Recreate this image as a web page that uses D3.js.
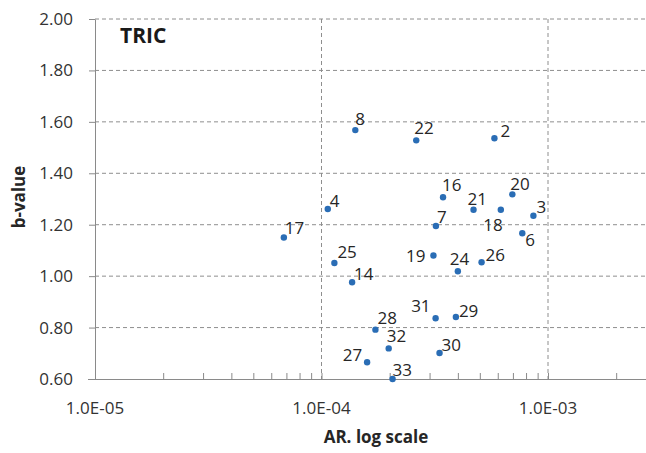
<!DOCTYPE html>
<html>
<head>
<meta charset="utf-8">
<script src="https://cdn.jsdelivr.net/npm/d3@7"></script>
<style>
  html, body { margin: 0; padding: 0; background: #fff; }
  svg { display: block; font-family: "Open Sans", "Noto Sans", sans-serif; }
</style>
</head>
<body>
<svg id="chart" width="646" height="453"></svg>
<script>
// Sample ids, AR (log axis) and b-value
const pointIds = [2, 3, 4, 6, 7, 8, 14, 16, 17, 18, 19, 20, 21, 22, 24, 25, 26, 27, 28, 29, 30, 31, 32, 33];
const arValues = [5.80e-4, 8.62e-4, 1.066e-4, 7.70e-4, 3.20e-4, 1.41e-4, 1.365e-4, 3.44e-4, 6.82e-5, 6.19e-4,
                  3.12e-4, 6.96e-4, 4.69e-4, 2.62e-4, 4.00e-4, 1.14e-4, 5.09e-4, 1.59e-4, 1.73e-4, 3.92e-4,
                  3.32e-4, 3.19e-4, 1.98e-4, 2.06e-4];
const bValues = [1.536, 1.235, 1.261, 1.167, 1.195, 1.568, 0.976, 1.307, 1.150, 1.258,
                 1.080, 1.318, 1.258, 1.528, 1.019, 1.051, 1.054, 0.665, 0.792, 0.841,
                 0.701, 0.836, 0.719, 0.600];

const yTicks = [0.6, 0.8, 1.0, 1.2, 1.4, 1.6, 1.8, 2.0];
const xDecades = [1e-5, 1e-4, 1e-3];
const xTickLabels = ['1.0E-05', '1.0E-04', '1.0E-03'];

// Label placement next to each dot: [dx, dy, anchor]
const labelOffset = {
    2: [6, -1], 3: [3, -3], 4: [2, -2], 6: [3, 13], 7: [1, -3], 8: [0, -5],
    14: [2, -2], 16: [-1, -6], 17: [1, -4], 18: [2, 21, 'end'], 19: [-8, 6, 'end'],
    20: [-2, -4], 21: [-6, -5], 22: [-2, -6], 24: [-8, -6], 25: [3, -5], 26: [4, -1],
    27: [-5, -1, 'end'], 28: [2, -6], 29: [3, 0], 30: [2, -2], 31: [-5, -6, 'end'],
    32: [-2, -6], 33: [0, -3]
};

const points = pointIds.map((id, i) => ({ id, ar: arValues[i], b: bValues[i] }));

const svg = d3.select('#chart');
const plotLeft = 95, plotTop = 19, plotBottom = 379, plotRight = 646;
const decadePx = 226.5;

const x = d3.scaleLog().domain([1e-5, 3e-3]).range([plotLeft, plotLeft + decadePx * Math.log10(300)]);
const y = d3.scaleLinear().domain([0.6, 2.0]).range([plotBottom, plotTop]);

const gridColor = '#8e8e8e';
const axisColor = '#8a8a8a';

// Horizontal dashed gridlines
svg.append('g')
    .selectAll('line')
    .data(yTicks.filter(v => v > 0.6))
    .join('line')
    .attr('x1', plotLeft).attr('x2', plotRight)
    .attr('y1', d => y(d)).attr('y2', d => y(d))
    .attr('stroke', gridColor).attr('stroke-width', 1)
    .attr('stroke-dasharray', '4,3');

// Vertical dashed gridlines at decades
svg.append('g')
    .selectAll('line')
    .data(xDecades.filter(v => v > 1e-5))
    .join('line')
    .attr('x1', d => x(d)).attr('x2', d => x(d))
    .attr('y1', plotTop).attr('y2', plotBottom)
    .attr('stroke', gridColor).attr('stroke-width', 1)
    .attr('stroke-dasharray', '4,3');

// Y axis
const yAxis = svg.append('g')
    .attr('transform', `translate(${plotLeft},0)`)
    .call(d3.axisLeft(y).tickValues(yTicks).tickFormat(d3.format('.2f')).tickSize(6).tickSizeOuter(0));
yAxis.select('.domain').attr('stroke', axisColor);
yAxis.selectAll('.tick line').attr('stroke', axisColor);
yAxis.selectAll('.tick text')
    .attr('x', -22)
    .attr('fill', '#333')
    .style('font-size', '17px')
    .style('font-family', '"Open Sans", sans-serif');

// X axis: minor ticks pointing up into the plot
const minorTicks = [];
for (let e = -5; e <= -3; e++) {
    for (let m = 1; m <= 9; m++) {
        const v = m * Math.pow(10, e);
        if (v <= 3e-3) minorTicks.push(v);
    }
}
const xAxis = svg.append('g')
    .attr('transform', `translate(0,${plotBottom})`)
    .call(d3.axisBottom(x).tickValues(minorTicks).tickFormat('').tickSize(-6).tickSizeOuter(0));
xAxis.select('.domain').attr('stroke', axisColor).attr('d', `M${plotLeft - 7},0.5H${plotRight}`);
xAxis.selectAll('.tick line').attr('stroke', axisColor);

svg.append('g')
    .selectAll('text')
    .data(xDecades)
    .join('text')
    .attr('x', d => x(d))
    .attr('y', plotBottom + 35)
    .attr('text-anchor', 'middle')
    .attr('fill', '#333')
    .style('font-size', '17px')
    .text((d, i) => xTickLabels[i]);

// Points
svg.append('g')
    .selectAll('circle')
    .data(points)
    .join('circle')
    .attr('cx', d => x(d.ar))
    .attr('cy', d => y(d.b))
    .attr('r', 3.2)
    .attr('fill', '#2a6db5');

// Point labels
svg.append('g')
    .selectAll('text')
    .data(points)
    .join('text')
    .attr('x', d => x(d.ar) + labelOffset[d.id][0])
    .attr('y', d => y(d.b) + labelOffset[d.id][1])
    .attr('text-anchor', d => labelOffset[d.id][2] || 'start')
    .attr('fill', '#262626')
    .style('font-size', '17px')
    .text(d => d.id);

// Panel title
svg.append('text')
    .attr('x', 120).attr('y', 43)
    .attr('fill', '#1a1a1a')
    .style('font-size', '21px').style('font-weight', 'bold')
    .text('TRIC');

// Axis titles
svg.append('text')
    .attr('x', 376).attr('y', 443)
    .attr('text-anchor', 'middle')
    .attr('fill', '#262626')
    .style('font-size', '17px').style('font-weight', 'bold')
    .text('AR. log scale');

svg.append('text')
    .attr('transform', 'translate(25,197) rotate(-90)')
    .attr('text-anchor', 'middle')
    .attr('fill', '#262626')
    .style('font-size', '17px').style('font-weight', 'bold')
    .text('b-value');
</script>
</body>
</html>
